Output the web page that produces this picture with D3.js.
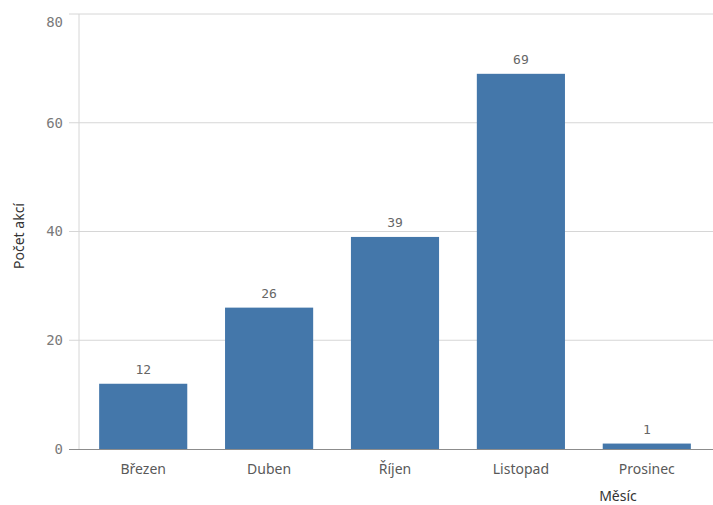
<!DOCTYPE html>
<html>
<head>
<meta charset="utf-8">
<script src="https://cdn.jsdelivr.net/npm/d3@7"></script>
<style>
  body { margin: 0; background: #fff; }
  .mono { font-family: "DejaVu Sans Mono", monospace; }
  .sans { font-family: "Noto Sans", sans-serif; }
</style>
</head>
<body>
<div id="chart"></div>
<script>
// Data
const months = ["Březen", "Duben", "Říjen", "Listopad", "Prosinec"];
const counts = [12, 26, 39, 69, 1];
const yTicks = [0, 20, 40, 60, 80];

const W = 713, H = 505;
const plot = {left: 79, right: 711, top: 14, bottom: 449};

const svg = d3.select("#chart")
    .append("svg")
    .attr("width", W)
    .attr("height", H);

const x = d3.scaleBand()
    .domain(months)
    .range([plot.left, plot.right])
    .paddingInner(0.3)
    .paddingOuter(0.16);

const y = d3.scaleLinear()
    .domain([0, 80])
    .range([plot.bottom, plot.top]);

// Gridlines
svg.append("g")
    .selectAll("line")
    .data(yTicks.filter(d => d > 0))
    .enter().append("line")
    .attr("x1", plot.left - 10)
    .attr("x2", W)
    .attr("y1", d => y(d))
    .attr("y2", d => y(d))
    .attr("stroke", "#d6d6d6")
    .attr("stroke-width", 1);

// y axis line
svg.append("line")
    .attr("x1", plot.left).attr("x2", plot.left)
    .attr("y1", plot.top).attr("y2", plot.bottom)
    .attr("stroke", "#d6d6d6");

// Tick labels (top one pushed down so it isn't clipped)
svg.append("g")
    .selectAll("text")
    .data(yTicks)
    .enter().append("text")
    .attr("class", "mono")
    .attr("x", plot.left - 16)
    .attr("y", d => y(d) + (d === 80 ? 8 : 0))
    .attr("dy", "0.35em")
    .attr("text-anchor", "end")
    .attr("font-size", 14)
    .attr("fill", "#7a7a7a")
    .text(d => d);

// Bars
svg.append("g")
    .selectAll("rect")
    .data(months)
    .enter().append("rect")
    .attr("x", d => x(d))
    .attr("width", x.bandwidth())
    .attr("y", (d, i) => y(counts[i]))
    .attr("height", (d, i) => plot.bottom - y(counts[i]))
    .attr("fill", "#4477aa");

// Baseline
svg.append("line")
    .attr("x1", plot.left - 10).attr("x2", W)
    .attr("y1", plot.bottom + 0.5).attr("y2", plot.bottom + 0.5)
    .attr("stroke", "#8c8c8c");

// Value labels
svg.append("g")
    .selectAll("text")
    .data(months)
    .enter().append("text")
    .attr("class", "mono")
    .attr("x", d => x(d) + x.bandwidth() / 2)
    .attr("y", (d, i) => y(counts[i]) - 10)
    .attr("text-anchor", "middle")
    .attr("font-size", 13)
    .attr("fill", "#666")
    .text((d, i) => counts[i]);

// Category labels
svg.append("g")
    .selectAll("text")
    .data(months)
    .enter().append("text")
    .attr("class", "sans")
    .attr("x", d => x(d) + x.bandwidth() / 2)
    .attr("y", plot.bottom + 25)
    .attr("text-anchor", "middle")
    .attr("font-size", 14)
    .attr("fill", "#595959")
    .text(d => d);

// Axis titles
svg.append("text")
    .attr("class", "sans")
    .attr("x", 618)
    .attr("y", 501)
    .attr("text-anchor", "middle")
    .attr("font-size", 14)
    .attr("fill", "#333")
    .text("Měsíc");

svg.append("text")
    .attr("class", "sans")
    .attr("transform", "translate(24,236) rotate(-90)")
    .attr("text-anchor", "middle")
    .attr("font-size", 14)
    .attr("fill", "#333")
    .text("Počet akcí");
</script>
</body>
</html>
